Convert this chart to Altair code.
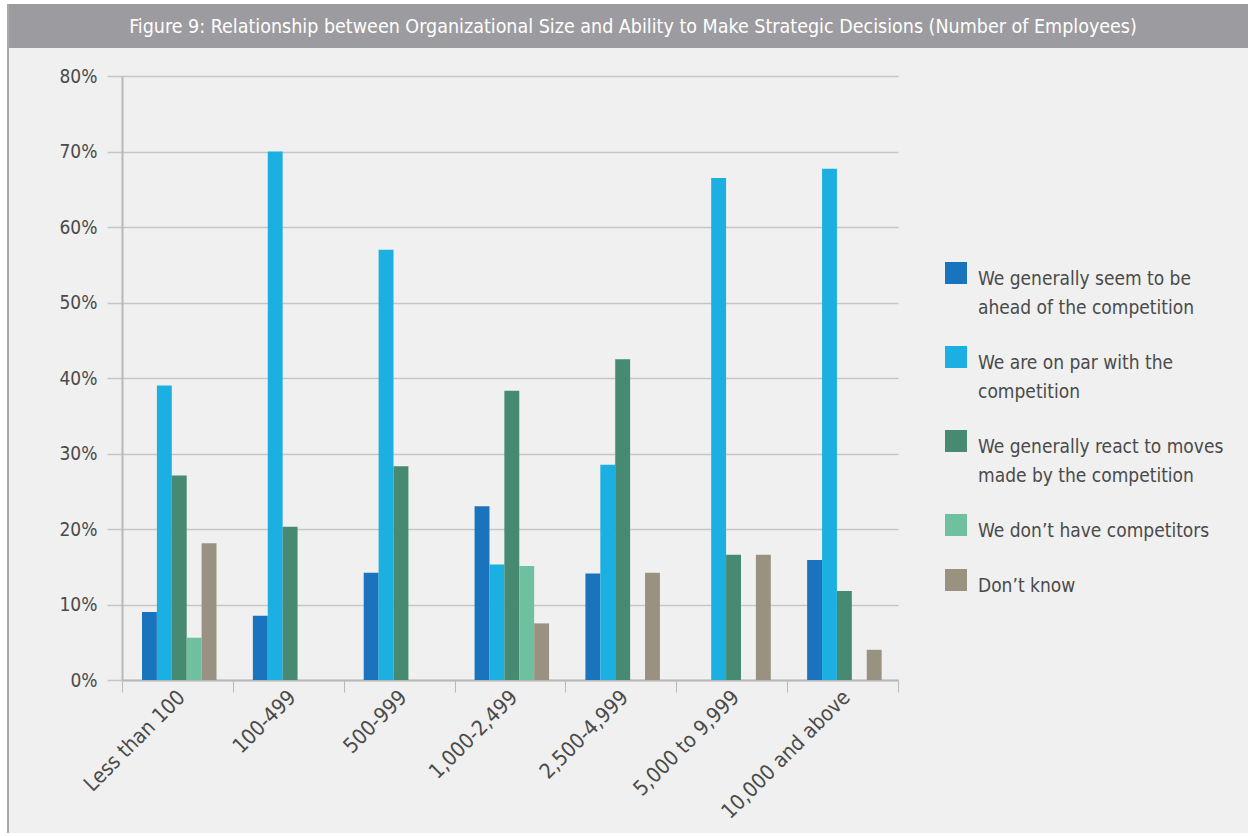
import altair as alt
import pandas as pd

# Employee-count bands and the five survey answers
groups = [
    "Less than 100", "100-499", "500-999", "1,000-2,499",
    "2,500-4,999", "5,000 to 9,999", "10,000 and above",
]
responses = [
    "We generally seem to be ahead of the competition",
    "We are on par with the competition",
    "We generally react to moves made by the competition",
    "We don\u2019t have competitors",
    "Don\u2019t know",
]
colors = ["#1a74bd", "#1cb0e2", "#468a71", "#6fc09e", "#9a9280"]

# Share of respondents (percent) per band; None = no answer of that kind
ahead = [9.0, 8.5, 14.2, 23.0, 14.1, None, 15.9]
on_par = [39.0, 70.0, 57.0, 15.3, 28.5, 66.5, 67.7]
react = [27.1, 20.3, 28.3, 38.3, 42.5, 16.6, 11.8]
no_competitors = [5.6, None, None, 15.1, None, None, None]
dont_know = [18.1, None, None, 7.5, 14.2, 16.6, 4.0]

series = [ahead, on_par, react, no_competitors, dont_know]

rows = []
for resp, vals in zip(responses, series):
    for g, v in zip(groups, vals):
        if v is not None:
            rows.append({"group": g, "response": resp, "share": v / 100})
df = pd.DataFrame(rows)

# Legend labels wrapped onto two lines where needed
wrapped = {
    responses[0]: ["We generally seem to be", "ahead of the competition"],
    responses[1]: ["We are on par with the", "competition"],
    responses[2]: ["We generally react to moves", "made by the competition"],
}
label_expr = ""
for k, lines in wrapped.items():
    arr = "[" + ",".join("'" + s + "'" for s in lines) + "]"
    label_expr += "datum.label == '" + k + "' ? " + arr + " : "
label_expr += "datum.label"

FONT = "DejaVu Sans Condensed, Liberation Sans Narrow, sans-serif"
TEXT_GREY = "#4a4a4a"
AXIS_GREY = "#b8b8b8"
GRID_GREY = "#c6c6c6"
PANEL = "#f0f0f0"

W, H = 776, 604
LEFT, TOP = 122, 76

title_text = ("Figure 9: Relationship between Organizational Size and Ability "
              "to Make Strategic Decisions (Number of Employees)")

one = alt.Data(values=[{}])


def strip(x0, x1, y0, y1, fill):
    """Plain rectangle given in page pixels (outside the plotting area)."""
    return alt.Chart(one).mark_rect(fill=fill, clip=False).encode(
        x=alt.value(x0 - LEFT), x2=alt.value(x1 - LEFT),
        y=alt.value(y0 - TOP), y2=alt.value(y1 - TOP),
    )


# White margins round the light panel, its grey left edge and the heading band
top_margin = strip(0, 1260, 0, 4, "white")
left_margin = strip(0, 7, 0, 840, "white")
bottom_margin = strip(0, 1260, 833, 840, "white")
left_edge = strip(7, 9, 4, 833, "#a9a9a9")
band = strip(9, 1260, 4, 48, "#9c9ba0")

heading = alt.Chart(one).mark_text(
    text=title_text, font=FONT, fontSize=19.5, color="white",
    align="center", baseline="middle", clip=False,
).encode(x=alt.value(633 - LEFT), y=alt.value(27 - TOP))

bars = alt.Chart(df).mark_bar().encode(
    x=alt.X(
        "group:N", sort=groups, title=None,
        scale=alt.Scale(paddingInner=0, paddingOuter=0),
        axis=alt.Axis(
            labelAngle=-45, labelAlign="right", labelBaseline="middle",
            tickBand="extent", tickSize=12, tickColor=AXIS_GREY,
            domainColor=AXIS_GREY, domainWidth=2, labelPadding=2,
            labelOffset=4,
            labelFont=FONT, labelFontSize=21, labelColor=TEXT_GREY,
            grid=False,
        ),
    ),
    xOffset=alt.XOffset(
        "response:N", sort=responses,
        scale=alt.Scale(paddingInner=0, paddingOuter=0, range=[20, 94.5]),
    ),
    y=alt.Y(
        "share:Q", title=None,
        scale=alt.Scale(domain=[0, 0.8], nice=False),
        axis=alt.Axis(
            values=[0, 0.1, 0.2, 0.3, 0.4, 0.5, 0.6, 0.7, 0.8], format=".0%",
            ticks=True, tickSize=15, tickWidth=1.5, tickColor=GRID_GREY,
            gridColor=GRID_GREY, gridWidth=1.5,
            domainColor=AXIS_GREY, domainWidth=2, labelPadding=10,
            labelFont=FONT, labelFontSize=19, labelColor=TEXT_GREY,
        ),
    ),
    color=alt.Color(
        "response:N", sort=responses,
        scale=alt.Scale(domain=responses, range=colors),
        legend=alt.Legend(
            title=None, orient="none", legendX=823, legendY=183, padding=0,
            symbolType="M-1,-0.727L1,-0.727L1,1.273L-1,1.273Z",
            symbolSize=484, symbolStrokeWidth=0,
            symbolOpacity=1, labelFont=FONT, labelFontSize=19,
            labelColor=TEXT_GREY, labelOffset=11, labelLimit=400,
            labelBaseline="top", rowPadding=25, labelExpr=label_expr,
        ),
    ),
)

chart = alt.layer(
    top_margin, left_margin, bottom_margin, left_edge, band, heading, bars
).properties(
    width=W, height=H,
    autosize=alt.AutoSizeParams(type="none"),
    padding={"left": LEFT, "top": TOP, "right": 1248 - LEFT - W, "bottom": 836 - TOP - H},
    background=PANEL,
).configure(
    style={"guide-label": {"lineHeight": 29}}
).configure_view(strokeWidth=0)

chart.save("out.html", embed_options={"renderer": "svg", "actions": False})
